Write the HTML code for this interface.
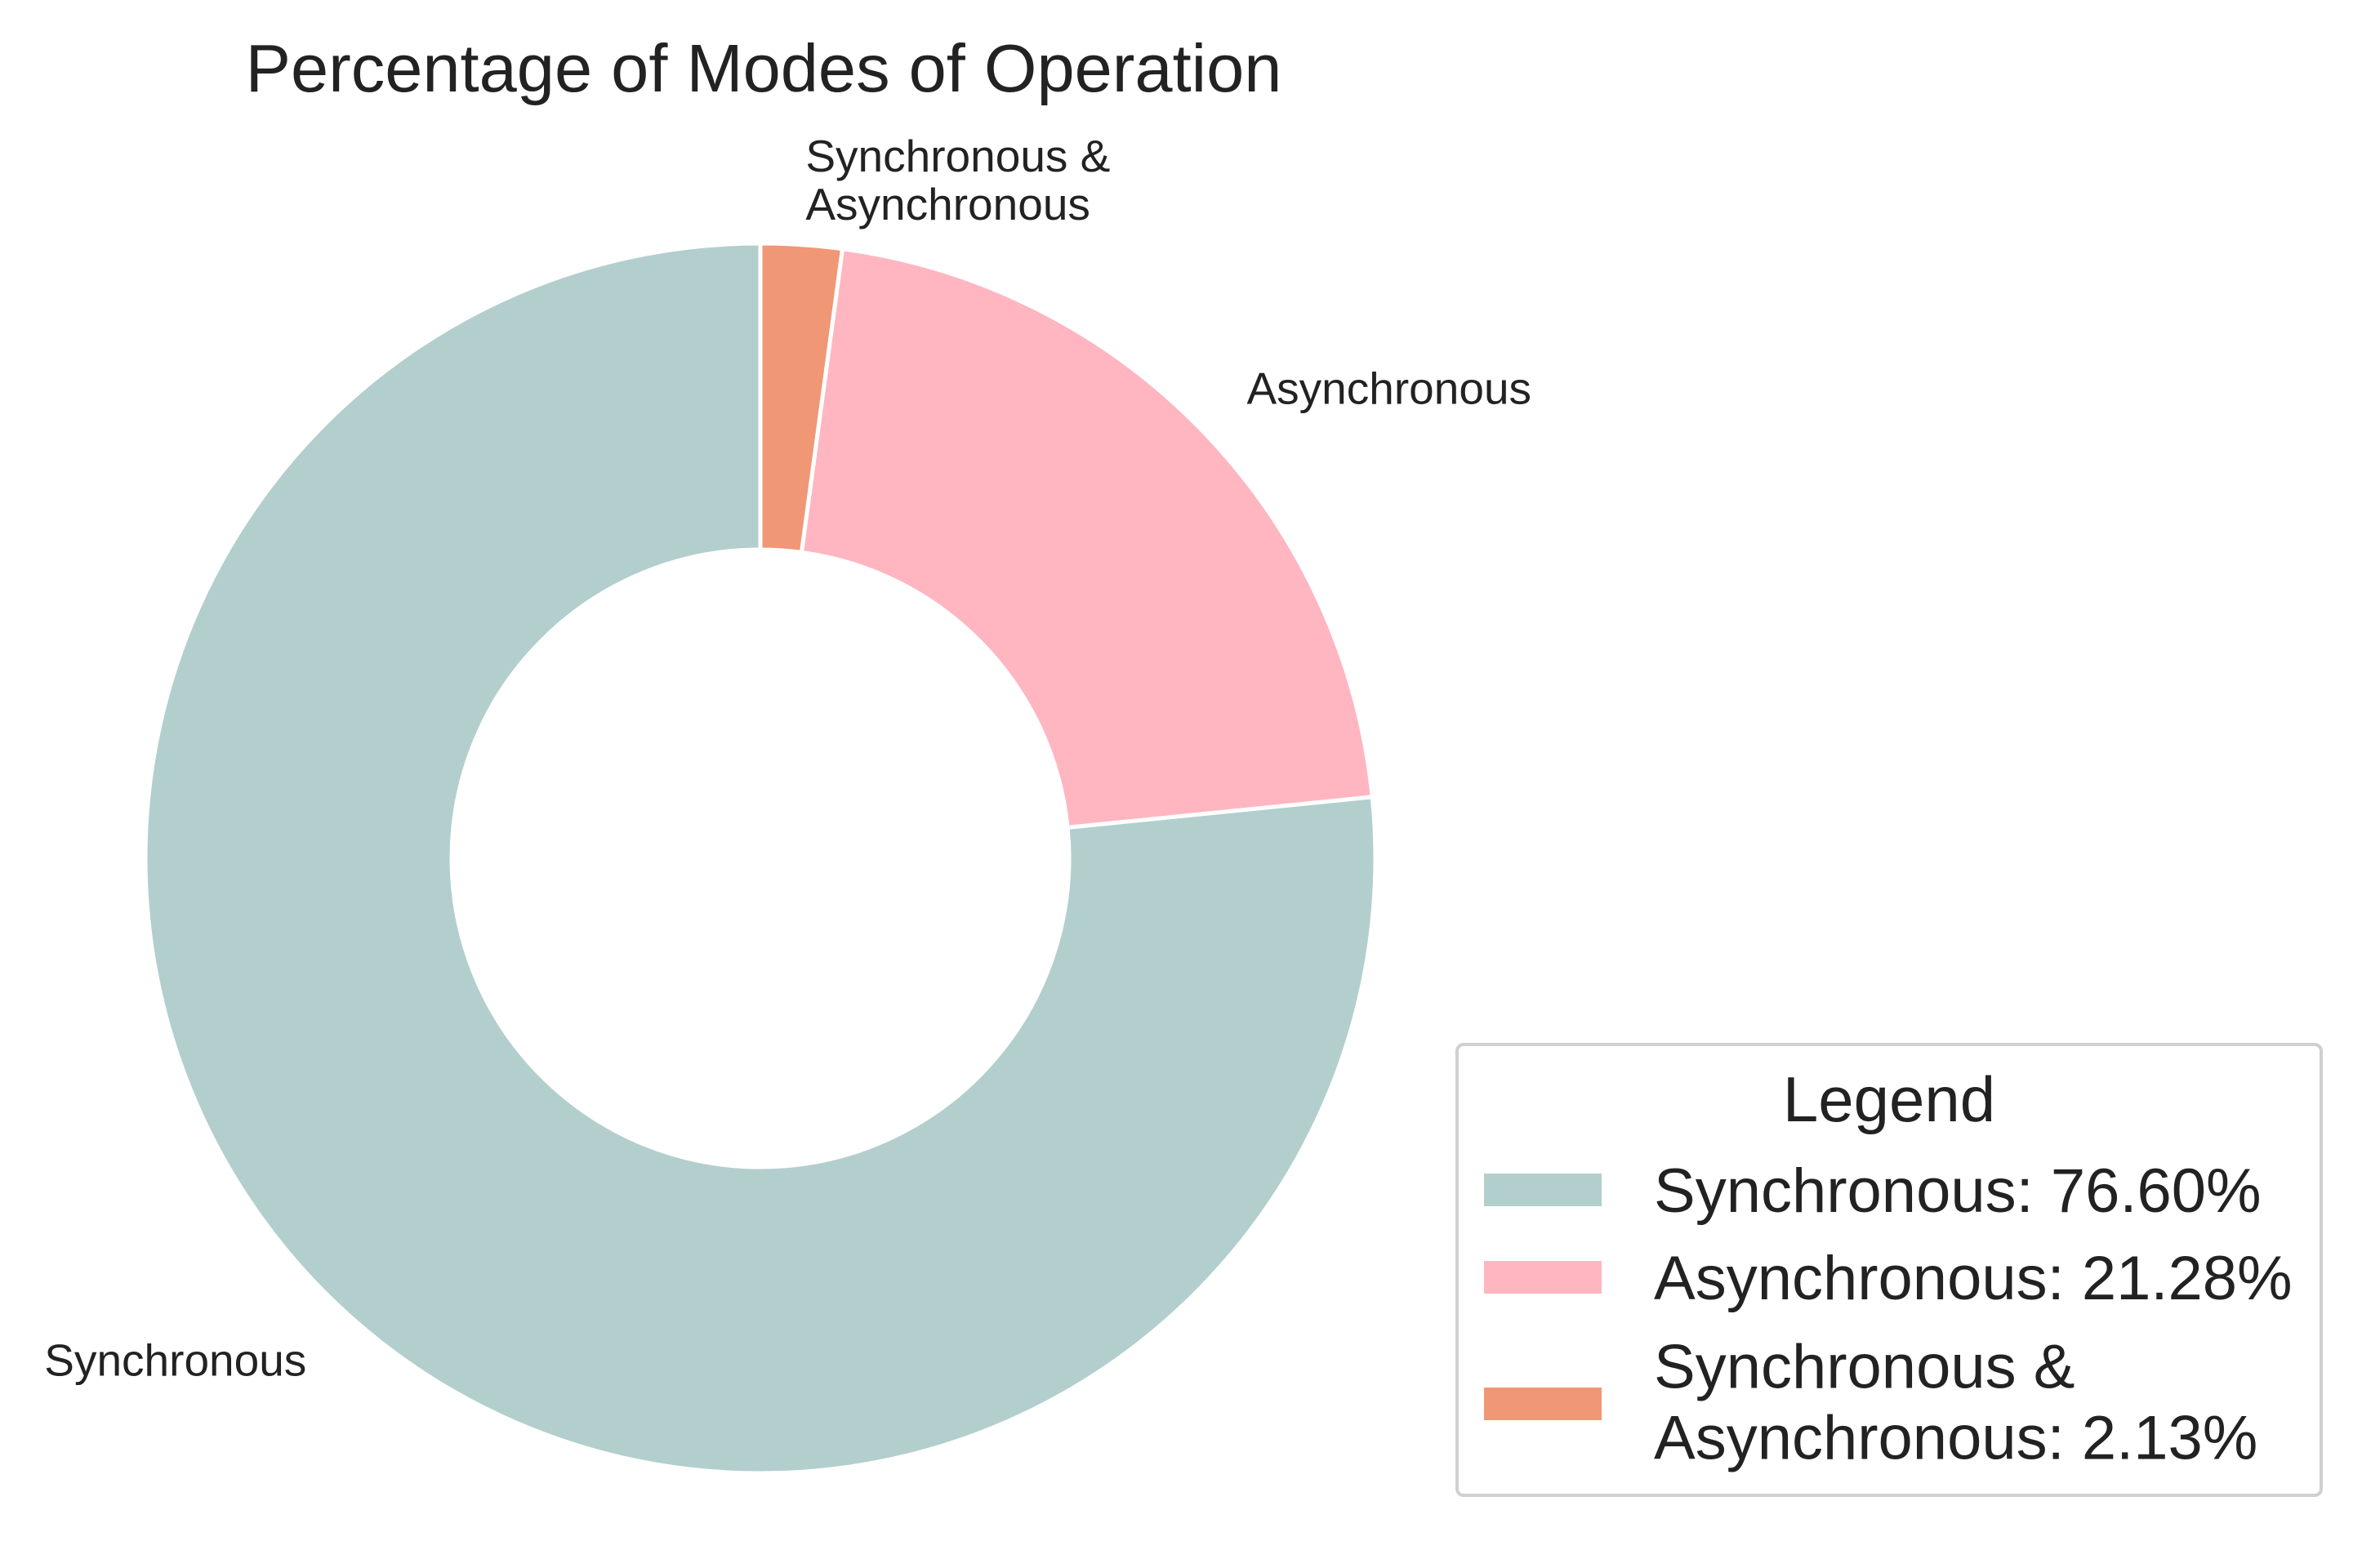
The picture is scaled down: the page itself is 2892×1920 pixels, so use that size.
<!DOCTYPE html>
<html><head><meta charset="utf-8"><style>
body{margin:0;background:#fff}
svg{display:block;font-family:"Liberation Sans",Arial,sans-serif}
</style></head><body>
<svg id="chart" width="2892" height="1920" viewBox="0 0 2892 1920">
<rect width="2892" height="1920" fill="#fff"/>
<text x="935" y="112" text-anchor="middle" font-size="83" fill="#222">Percentage of Modes of Operation</text>
<g id="slices"></g>
<g id="labels"></g>
<g>
<rect x="1784" y="1279" width="1058" height="552" rx="8" fill="#fff" stroke="#d0d0d0" stroke-width="4"/>
<text x="2313" y="1373" text-anchor="middle" font-size="78" fill="#222">Legend</text>
<g id="legend-entries"></g>
</g>
</svg>
<script>
const categories = ["Synchronous", "Asynchronous", "Synchronous & Asynchronous"];
const values = [76.60, 21.28, 2.13];
const colors = ["#b3cfcd", "#ffb6c1", "#f09775"];
const cx = 931, cy = 1051, R = 753, r = 378;
const NS = "http://www.w3.org/2000/svg";
const slices = document.getElementById("slices");
const labels = document.getElementById("labels");
const legend = document.getElementById("legend-entries");
const total = values.reduce((a, b) => a + b, 0);
function pt(deg, rad) { const a = deg * Math.PI / 180; return [cx + rad * Math.cos(a), cy - rad * Math.sin(a)]; }
let start = 90;
values.forEach((v, i) => {
  const sweep = v / total * 360, end = start + sweep;
  const [x1, y1] = pt(start, R), [x2, y2] = pt(end, R), [x3, y3] = pt(end, r), [x4, y4] = pt(start, r);
  const large = sweep > 180 ? 1 : 0;
  const p = document.createElementNS(NS, "path");
  p.setAttribute("d", `M${x1},${y1} A${R},${R} 0 ${large} 0 ${x2},${y2} L${x3},${y3} A${r},${r} 0 ${large} 1 ${x4},${y4} Z`);
  p.setAttribute("fill", colors[i]);
  p.setAttribute("stroke", "#fff");
  p.setAttribute("stroke-width", "5");
  
  
  slices.appendChild(p);
  const mid = start + sweep / 2;
  const [lx, ly] = pt(mid, R * 1.1);
  const t = document.createElementNS(NS, "text");
  t.setAttribute("font-size", "55");
  t.setAttribute("fill", "#222");
  const anchor = Math.cos(mid * Math.PI / 180) >= 0 ? "start" : "end";
  t.setAttribute("text-anchor", anchor);
  
  
  const name = categories[i];
  const lines = name.includes(" & ") ? [name.split(" & ")[0] + " &", name.split(" & ")[1]] : [name];
  const lh = 59, y0 = ly - (lines.length - 1) * lh / 2 + 19 - (lines.length - 1) * 4;
  lines.forEach((ln, k) => {
    const ts = document.createElementNS(NS, "tspan");
    ts.setAttribute("x", lx); ts.setAttribute("y", y0 + k * lh);
    ts.textContent = ln; t.appendChild(ts);
  });
  labels.appendChild(t);
  start = end;
});
const rowY = [1457, 1564, 1719];
values.forEach((v, i) => {
  const g = document.createElementNS(NS, "g");
  
  
  const rc = document.createElementNS(NS, "rect");
  rc.setAttribute("x", 1817); rc.setAttribute("y", rowY[i] - 20);
  rc.setAttribute("width", 144); rc.setAttribute("height", 40);
  rc.setAttribute("fill", colors[i]);
  g.appendChild(rc);
  const t = document.createElementNS(NS, "text");
  t.setAttribute("font-size", "76"); t.setAttribute("fill", "#222");
  const name = categories[i], pct = v.toFixed(2) + "%";
  const lines = name.includes(" & ") ? [name.split(" & ")[0] + " &", name.split(" & ")[1] + ": " + pct] : [name + ": " + pct];
  const lh = 87, y0 = rowY[i] + 27 - (lines.length - 1) * lh / 2 - (lines.length - 1) * 3;
  lines.forEach((ln, k) => {
    const ts = document.createElementNS(NS, "tspan");
    ts.setAttribute("x", 2025); ts.setAttribute("y", y0 + k * lh);
    ts.textContent = ln; t.appendChild(ts);
  });
  g.appendChild(t);
  legend.appendChild(g);
});
</script>
</body></html>
